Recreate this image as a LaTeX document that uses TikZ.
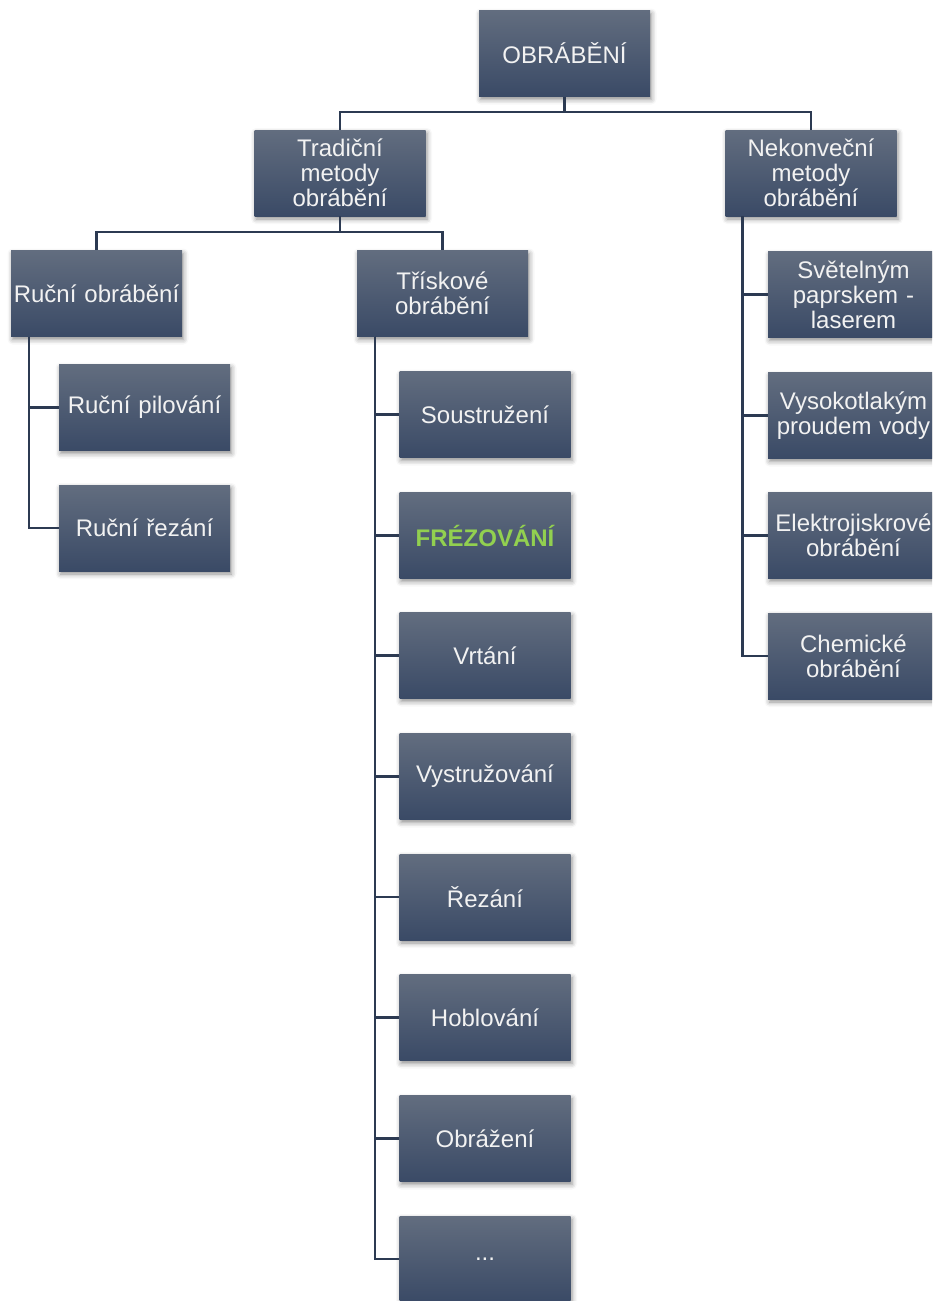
\documentclass[tikz,border=0pt]{standalone}
\usepackage{fontspec}
\setmainfont{Liberation Sans}
\usetikzlibrary{shadows.blur}
\definecolor{boxtop}{RGB}{98,109,127}
\definecolor{boxbot}{RGB}{58,74,102}
\definecolor{linec}{RGB}{44,58,82}
\definecolor{txt}{RGB}{242,242,242}
\definecolor{hl}{RGB}{146,208,80}
\tikzset{
  box/.style={rectangle, minimum width=171pt, minimum height=86pt, inner sep=0pt,
    text width=166pt, align=center, top color=boxtop, bottom color=boxbot,
    text=txt, font=\fontsize{24}{25}\selectfont,
    blur shadow={shadow xshift=1.5pt, shadow yshift=-3pt, shadow blur radius=5pt, shadow opacity=45}},
  conn/.style={draw=linec, line width=2.5pt}
}
\begin{document}
\begin{tikzpicture}[x=1pt,y=-1pt]
\useasboundingbox (0,0) rectangle (932,1301);
\begin{scope}
\clip (0,0) rectangle (932,1301);
% connectors first
\coordinate (tb) at (564.5,112);
\coordinate (mb) at (340,232);
% nodes
\node[box] (root) at (564.5,53.5) {OBRÁBĚNÍ};
\node[box] (trad) at (340,173) {Tradiční\\metody\\obrábění};
\node[box] (nek) at (811,173) {Nekonveční\\metody\\obrábění};
\node[box] (rucni) at (96.5,293.5) {Ruční obrábění};
\node[box] (trisk) at (442.5,293.5) {Třískové\\obrábění};
\node[box] (pil) at (144.5,407.5) {Ruční pilování};
\node[box] (rez) at (144.5,528) {Ruční řezání};
\node[box] (t1) at (485,414.5) {Soustružení};
\node[box] (t2) at (485,535.5) {\textcolor{hl}{\bfseries FRÉZOVÁNÍ}};
\node[box] (t3) at (485,655.5) {Vrtání};
\node[box] (t4) at (485,776.5) {Vystružování};
\node[box] (t5) at (485,897) {Řezání};
\node[box] (t6) at (485,1017.5) {Hoblování};
\node[box] (t7) at (485,1138.5) {Obrážení};
\node[box] (t8) at (485,1259) {...};
\node[box] (n1) at (853.5,294.5) {Světelným\\paprskem -\\laserem};
\node[box] (n2) at (853.5,415.5) {Vysokotlakým\\proudem vody};
\node[box] (n3) at (853.5,535.5) {Elektrojiskrové\\obrábění};
\node[box] (n4) at (853.5,656) {Chemické\\obrábění};
% connectors
\draw[conn] (root.south) -- (tb);
\draw[conn] (tb) -| (trad.north);
\draw[conn] (tb) -| (nek.north);
\draw[conn] (trad.south) -- (mb);
\draw[conn] (mb) -| (rucni.north);
\draw[conn] (mb) -| (trisk.north);
\foreach \c in {pil,rez}{\draw[conn] ([xshift=18pt]rucni.south west) |- (\c.west);}
\foreach \c in {t1,t2,t3,t4,t5,t6,t7,t8}{\draw[conn] ([xshift=18pt]trisk.south west) |- (\c.west);}
\foreach \c in {n1,n2,n3,n4}{\draw[conn] ([xshift=17pt]nek.south west) |- (\c.west);}
\end{scope}
\end{tikzpicture}
\end{document}
